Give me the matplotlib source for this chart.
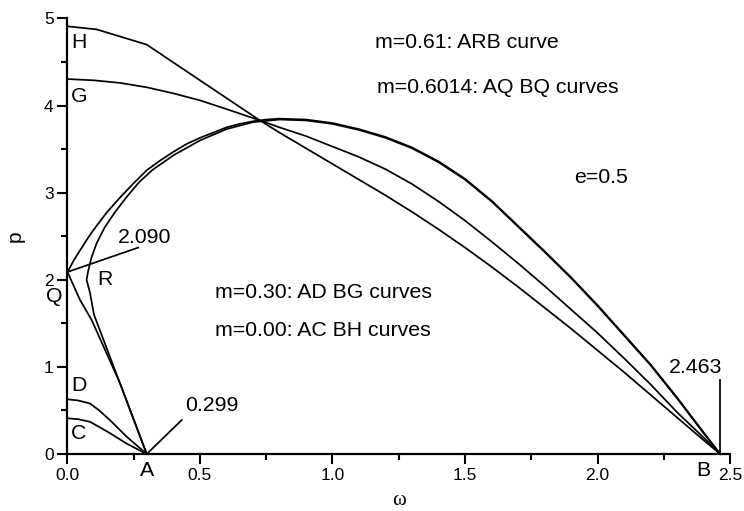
import matplotlib
matplotlib.use("Agg")
import matplotlib.pyplot as plt
from matplotlib.ticker import MultipleLocator, FormatStrFormatter

plt.rcParams['font.family'] = ['Liberation Sans', 'DejaVu Sans']

# curve data (omega, p)
bh_w = [0.0, 0.11, 0.299, 0.5, 0.726, 0.8, 0.9, 1.0, 1.1, 1.2, 1.3, 1.4, 1.5, 1.6, 1.7,
        1.8, 1.9, 2.0, 2.1, 2.2, 2.3, 2.4, 2.463]
bh_p = [4.91, 4.875, 4.70, 4.29, 3.83, 3.69, 3.51, 3.33, 3.15, 2.97, 2.78, 2.58, 2.37, 2.15, 1.92,
        1.68, 1.44, 1.19, 0.94, 0.68, 0.42, 0.16, 0.0]

bg_w = [0.0, 0.1, 0.2, 0.299, 0.4, 0.5, 0.6, 0.726, 0.8, 0.9, 1.0, 1.1, 1.2, 1.3, 1.4, 1.5,
        1.6, 1.7, 1.8, 1.9, 2.0, 2.1, 2.2, 2.3, 2.4, 2.463]
bg_p = [4.305, 4.29, 4.26, 4.21, 4.14, 4.06, 3.96, 3.83, 3.75, 3.65, 3.53, 3.41, 3.27, 3.10, 2.90, 2.68,
        2.44, 2.19, 1.93, 1.66, 1.39, 1.10, 0.80, 0.48, 0.19, 0.0]

bq_w = [0.0, 0.025, 0.05, 0.075, 0.1, 0.15, 0.2, 0.25, 0.3, 0.35, 0.4, 0.45, 0.5, 0.55, 0.6,
        0.65, 0.7, 0.75, 0.8, 0.9, 1.0, 1.1, 1.2, 1.3, 1.4, 1.5, 1.6, 1.7, 1.8, 1.9, 2.0,
        2.1, 2.2, 2.3, 2.4, 2.463]
bq_p = [2.09, 2.23, 2.35, 2.47, 2.58, 2.78, 2.95, 3.11, 3.26, 3.37, 3.47, 3.56, 3.63, 3.69, 3.75,
        3.79, 3.82, 3.84, 3.85, 3.84, 3.80, 3.73, 3.64, 3.52, 3.36, 3.16, 2.91, 2.62, 2.33, 2.03, 1.71,
        1.37, 1.03, 0.65, 0.25, 0.0]

arb_w = [0.299, 0.1, 0.085, 0.072, 0.078, 0.09, 0.11, 0.14, 0.18, 0.223, 0.27, 0.32, 0.4, 0.5,
         0.6, 0.7, 0.8, 0.9, 1.0, 1.1, 1.2, 1.3, 1.4, 1.5, 1.6, 1.7, 1.8, 1.9, 2.0, 2.1, 2.2,
         2.3, 2.4, 2.463]
arb_p = [0.0, 1.6, 1.85, 2.0, 2.10, 2.25, 2.42, 2.60, 2.78, 2.95, 3.12, 3.26, 3.43, 3.60,
         3.73, 3.81, 3.84, 3.83, 3.79, 3.72, 3.63, 3.51, 3.35, 3.15, 2.90, 2.61, 2.32, 2.02, 1.70,
         1.36, 1.02, 0.64, 0.24, 0.0]

aq_w = [0.299, 0.2, 0.15, 0.091, 0.047, 0.0]
aq_p = [0.0, 0.80, 1.14, 1.54, 1.77, 2.09]

ad_w = [0.0, 0.04, 0.085, 0.12, 0.16, 0.223, 0.299]
ad_p = [0.628, 0.615, 0.58, 0.50, 0.39, 0.20, 0.0]

ac_w = [0.0, 0.04, 0.085, 0.12, 0.16, 0.223, 0.299]
ac_p = [0.41, 0.40, 0.37, 0.31, 0.24, 0.12, 0.0]

# marker lines for the labelled values
q_mark_w = [0.0, 0.267]
q_mark_p = [2.09, 2.37]
a_mark_w = [0.299, 0.431]
a_mark_p = [0.0, 0.39]
b_mark_w = [2.463, 2.463]
b_mark_p = [0.0, 0.85]

fig = plt.figure(figsize=(7.44, 5.11), dpi=100)
ax = fig.add_axes([0.0907, 0.1115, 0.8905, 0.8523])

lw = 1.25
for w, p in [(bh_w, bh_p), (bg_w, bg_p), (bq_w, bq_p), (arb_w, arb_p),
             (aq_w, aq_p), (ad_w, ad_p), (ac_w, ac_p),
             (q_mark_w, q_mark_p), (a_mark_w, a_mark_p), (b_mark_w, b_mark_p)]:
    ax.plot(w, p, color='black', lw=lw, solid_joinstyle='round', clip_on=False)

ax.set_xlim(0, 2.5)
ax.set_ylim(0, 5)
ax.spines['top'].set_visible(False)
ax.spines['right'].set_visible(False)
ax.spines['left'].set_linewidth(1.6)
ax.spines['bottom'].set_linewidth(1.6)

ax.xaxis.set_major_locator(MultipleLocator(0.5))
ax.xaxis.set_minor_locator(MultipleLocator(0.25))
ax.xaxis.set_major_formatter(FormatStrFormatter('%.1f'))
ax.yaxis.set_major_locator(MultipleLocator(1))
ax.yaxis.set_minor_locator(MultipleLocator(0.5))
ax.tick_params(which='major', direction='out', length=7, width=1.5, labelsize=12.5, pad=3)
ax.tick_params(which='minor', direction='out', length=4, width=1.5)

ax.set_xlabel('ω', family='Liberation Serif', fontsize=15)
ax.xaxis.set_label_coords(0.5, -0.085)
ax.set_ylabel('p', fontsize=15)
ax.yaxis.set_label_coords(-0.064, 0.5)

fs = 15.3
ax.text(0.013, 4.73, 'H', fontsize=fs, va='center', ha='left')
ax.text(0.013, 4.11, 'G', fontsize=fs, va='center', ha='left')
ax.text(-0.05, 1.81, 'Q', fontsize=fs, va='center', ha='center', clip_on=False)
ax.text(0.14, 2.0, 'R', fontsize=fs, va='center', ha='center')
ax.text(0.013, 0.79, 'D', fontsize=fs, va='center', ha='left')
ax.text(0.013, 0.24, 'C', fontsize=fs, va='center', ha='left')
ax.text(0.299, -0.19, 'A', fontsize=fs, va='center', ha='center', clip_on=False)
ax.text(2.40, -0.19, 'B', fontsize=fs, va='center', ha='center', clip_on=False)
ax.text(0.19, 2.49, '2.090', fontsize=fs, va='center', ha='left')
ax.text(0.443, 0.555, '0.299', fontsize=fs, va='center', ha='left')
ax.text(2.469, 0.99, '2.463', fontsize=fs, va='center', ha='right')
ax.text(1.16, 4.73, 'm=0.61: ARB curve', fontsize=fs, va='center', ha='left')
ax.text(1.167, 4.21, 'm=0.6014: AQ BQ curves', fontsize=fs, va='center', ha='left')
ax.text(1.91, 3.18, 'e=0.5', fontsize=fs, va='center', ha='left')
ax.text(0.557, 1.86, 'm=0.30: AD BG curves', fontsize=fs, va='center', ha='left')
ax.text(0.557, 1.42, 'm=0.00: AC BH curves', fontsize=fs, va='center', ha='left')

fig.savefig('out.png', dpi=100)
